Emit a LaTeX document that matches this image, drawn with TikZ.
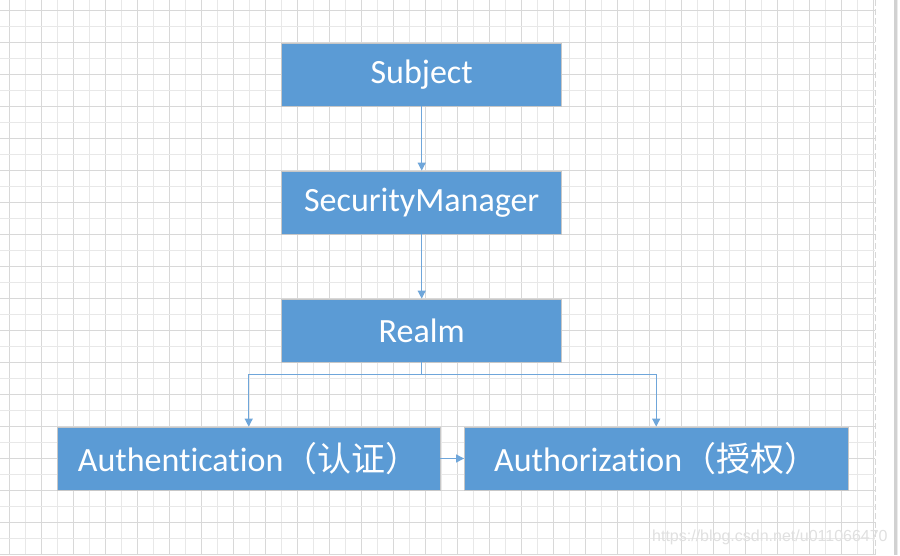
\documentclass[tikz,border=0pt]{standalone}
\usepackage{fontspec}
\setmainfont{Carlito}[Ligatures={NoCommon}]
\newfontfamily\cjk{Noto Sans CJK SC}
\newfontfamily\wmfont{Liberation Sans}
\usetikzlibrary{arrows.meta}
\definecolor{boxblue}{HTML}{5B9BD5}
\definecolor{lineblue}{HTML}{6FA6DA}
\definecolor{gridlight}{HTML}{E8E8E8}
\definecolor{griddark}{HTML}{D8D8D8}
\tikzset{
  blockbox/.style={draw=black!22, line width=0.8pt, fill=boxblue, text=white,
    minimum height=63pt, inner sep=0pt, font=\fontsize{34}{38}\selectfont},
  conn/.style={draw=lineblue, line width=1.3pt, -{Triangle[length=8pt,width=8pt]}},
}
\begin{document}
\begin{tikzpicture}[x=1pt,y=-1pt]
\useasboundingbox (0,0) rectangle (900,555);
\fill[white] (0,0) rectangle (900,555);
% grid
\foreach \k in {0,...,54}{
  \pgfmathsetmacro{\gx}{9.3+16*\k}
  \pgfmathtruncatemacro{\gpar}{mod(\k,2)}
  \ifnum\gpar=0
    \draw[griddark, line width=0.9pt] (\gx,0) -- (\gx,555);
  \else
    \draw[gridlight, line width=0.9pt] (\gx,0) -- (\gx,555);
  \fi
}
\foreach \k in {0,...,34}{
  \pgfmathsetmacro{\gy}{10.3+16*\k}
  \pgfmathtruncatemacro{\gpar}{mod(\k,2)}
  \ifnum\gpar=0
    \draw[griddark, line width=0.9pt] (0,\gy) -- (875,\gy);
  \else
    \draw[gridlight, line width=0.9pt] (0,\gy) -- (875,\gy);
  \fi
}
\draw[griddark, line width=0.9pt, dash pattern=on 6pt off 3pt] (875,0) -- (875,555);
\fill[white] (876,0) rectangle (893,555);
\fill[black!18] (893.5,0) rectangle (896.5,555);
\fill[black!8] (896.5,0) rectangle (898,555);
% boxes
\node[blockbox, minimum width=280pt] (subj) at (421.7,74.5) {Subject};
\node[blockbox, minimum width=280pt] (sm) at (421.7,202.5) {SecurityManager};
\node[blockbox, minimum width=280pt] (realm) at (421.7,330.5) {Realm};
\node[blockbox, minimum width=382.5pt] (authn) at (248.7,458.5) {Authentication{\cjk （认证）}};
\node[blockbox, minimum width=383.5pt] (authz) at (656.2,458.5) {Authorization{\cjk （授权）}};
% connectors
\draw[conn] (subj.south) -- (sm.north);
\draw[conn] (sm.south) -- (realm.north);
\draw[conn] (realm.south) -- ++(0,12) -| (authn.north);
\draw[conn] (realm.south) -- ++(0,12) -| (authz.north);
\draw[conn] (authn.east) -- (authz.west);
% watermark
\node[anchor=base west, inner sep=0pt, text=black!12, font=\wmfont\fontsize{16}{18}\selectfont] (wm) at (652,541.5) {https://blog.csdn.net/u011066470};
\end{tikzpicture}
\end{document}
